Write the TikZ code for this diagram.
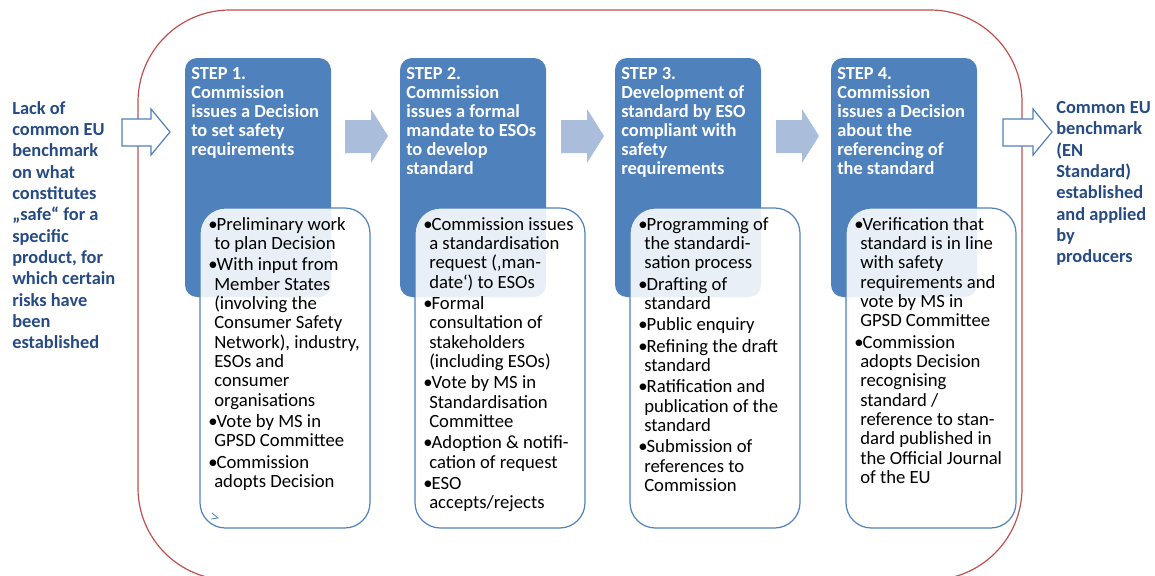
\documentclass[tikz,border=0pt]{standalone}
\usepackage{fontspec}
\setmainfont{Carlito}
\definecolor{stepblue}{HTML}{4F81BD}
\definecolor{arrowblue}{HTML}{AABDDB}
\definecolor{framered}{HTML}{C0504D}
\definecolor{navy}{HTML}{254A84}
\newcommand{\bl}{\makebox[6.3pt][l]{\textbullet}}
\newcommand{\ci}{\hspace*{4.5pt}}
\begin{document}
\begin{tikzpicture}[x=0.75pt,y=-0.75pt,
  stepbox/.style={fill=stepblue, rounded corners=9pt, minimum width=109.5pt, minimum height=179.25pt, inner sep=0pt},
  detailbox/.style={fill=white, fill opacity=0.88, draw=stepblue, line width=0.9pt, rounded corners=19pt, minimum width=127.5pt, minimum height=240pt, inner sep=0pt},
  headtext/.style={anchor=north west, inner sep=0pt, align=left, text=white, font=\fontsize{13.8}{14.3}\selectfont\bfseries},
  bodytext/.style={anchor=north west, inner sep=0pt, align=left, text=black, font=\fontsize{14}{14.5}\selectfont},
  sidetext/.style={anchor=north west, inner sep=0pt, align=left, text=navy, font=\fontsize{13.8}{16}\selectfont\bfseries},
  flowarrow/.style={fill=arrowblue},
  openarrow/.style={fill=white, draw=stepblue, line width=0.9pt, line join=miter}
]
\useasboundingbox (0,0) rectangle (1155,575);
\clip (0,0) rectangle (1155,575);
% big frame
\draw[framered, line width=0.9pt, rounded corners=69pt] (138,10) rectangle (1022,580);
% outline arrows
\draw[openarrow] (122,119) -- (151,119) -- (151,109) -- (170,132) -- (151,155) -- (151,146) -- (122,146) -- cycle;
\draw[openarrow] (1003,119) -- (1033,119) -- (1033,109) -- (1052,132) -- (1033,155) -- (1033,146) -- (1003,146) -- cycle;
% flow arrows
\foreach \x in {345,561,776}{
  \fill[flowarrow] (\x,120) -- (\x+26,120) -- (\x+26,109) -- (\x+43,136) -- (\x+26,163) -- (\x+26,153) -- (\x,153) -- cycle;
}
% step boxes
\node[stepbox] (s1) at (258,177.5) {};
\node[stepbox] (s2) at (473,177.5) {};
\node[stepbox] (s3) at (688,177.5) {};
\node[stepbox] (s4) at (904,177.5) {};
% headings
\node[headtext] (h1) at (191,67) {STEP 1.\\Commission\\issues a Decision\\to set safety\\requirements};
\node[headtext] (h2) at (406,67) {STEP 2.\\Commission\\issues a formal\\mandate to ESOs\\to develop\\standard};
\node[headtext] (h3) at (621,67) {STEP 3.\\Development of\\standard by ESO\\compliant with\\safety\\requirements};
\node[headtext] (h4) at (837,67) {STEP 4.\\Commission\\issues a Decision\\about the\\referencing of\\the standard};
% detail boxes
\node[detailbox] (d1) at (285,368) {};
\node[detailbox] (d2) at (500,368) {};
\node[detailbox] (d3) at (715,368) {};
\node[detailbox] (d4) at (931,368) {};
% detail texts
\node[bodytext] (t1) at (208,217) {\bl Preliminary work\\\ci to plan Decision\\[1.5pt]\bl With input from\\\ci Member States\\\ci (involving the\\\ci Consumer Safety\\\ci Network), industry,\\\ci ESOs and\\\ci consumer\\\ci organisations\\[1.5pt]\bl Vote by MS in\\\ci GPSD Committee\\[1.5pt]\bl Commission\\\ci adopts Decision};
\node[bodytext] (t2) at (423,217) {\bl Commission issues\\\ci a standardisation\\\ci request (‚man-\\\ci date‘) to ESOs\\[1.5pt]\bl Formal\\\ci consultation of\\\ci stakeholders\\\ci (including ESOs)\\[1.5pt]\bl Vote by MS in\\\ci Standardisation\\\ci Committee\\[1.5pt]\bl Adoption \& notifi-\\\ci cation of request\\[1.5pt]\bl ESO\\\ci accepts/rejects};
\node[bodytext] (t3) at (638,217) {\bl Programming of\\\ci the standardi-\\\ci sation process\\[1.5pt]\bl Drafting of\\\ci standard\\[1.5pt]\bl Public enquiry\\[1.5pt]\bl Refining the draft\\\ci standard\\[1.5pt]\bl Ratification and\\\ci publication of the\\\ci standard\\[1.5pt]\bl Submission of\\\ci references to\\\ci Commission};
\node[bodytext] (t4) at (854,217) {\bl Verification that\\\ci standard is in line\\\ci with safety\\\ci requirements and\\\ci vote by MS in\\\ci GPSD Committee\\[1.5pt]\bl Commission\\\ci adopts Decision\\\ci recognising\\\ci standard /\\\ci reference to stan-\\\ci dard published in\\\ci the Official Journal\\\ci of the EU};
% small mark in box 1
\draw[stepblue, line width=0.6pt] (212,513) -- (218,518) -- (211,519);
% side texts
\node[sidetext] (left) at (12,101) {Lack of\\common EU\\benchmark\\on what\\constitutes\\„safe“ for a\\specific\\product, for\\which certain\\risks have\\been\\established};
\node[sidetext] (right) at (1056,101) {Common EU\\benchmark\\(EN\\Standard)\\established\\and applied\\by\\producers};
\end{tikzpicture}
\end{document}
